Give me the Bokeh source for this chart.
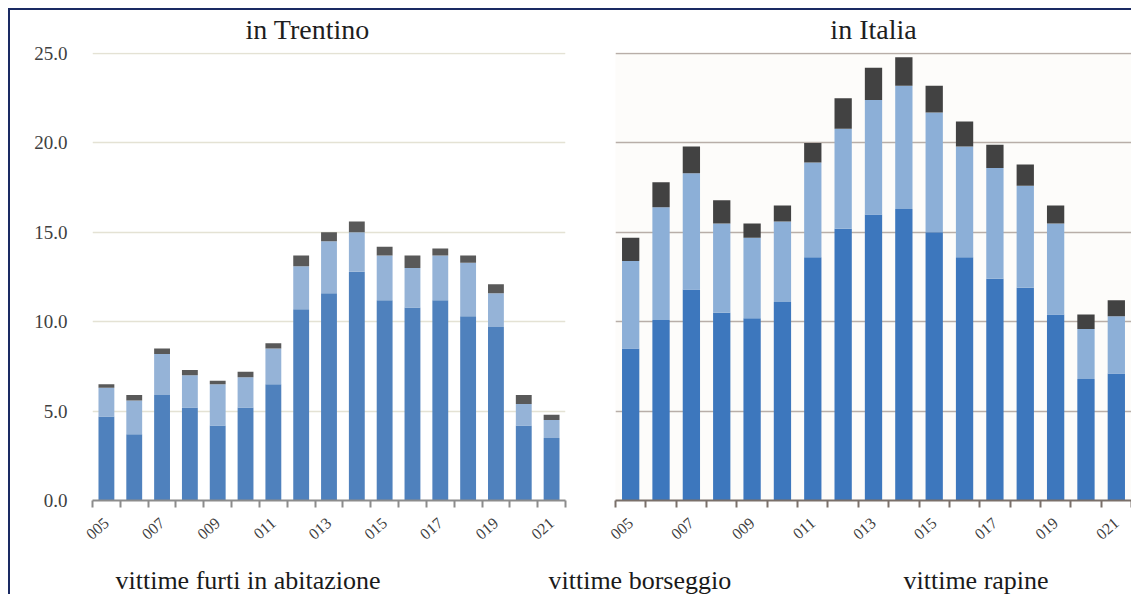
from bokeh.plotting import figure
from bokeh.models import Range1d, FixedTicker, ColumnDataSource
from bokeh.layouts import column, row
from bokeh.embed import file_html
from bokeh.resources import INLINE
from bokeh.core.properties import value

# ---------------- data ----------------
years = [2005, 2006, 2007, 2008, 2009, 2010, 2011, 2012, 2013,
         2014, 2015, 2016, 2017, 2018, 2019, 2020, 2021]
series = ["vittime furti in abitazione", "vittime borseggio", "vittime rapine"]

trentino_furti = [4.7, 3.7, 5.9, 5.2, 4.2, 5.2, 6.5, 10.7, 11.6, 12.8, 11.2, 10.8, 11.2, 10.3, 9.7, 4.2, 3.5]
trentino_borseggio = [1.6, 1.9, 2.3, 1.8, 2.3, 1.7, 2.0, 2.4, 2.9, 2.2, 2.5, 2.2, 2.5, 3.0, 1.9, 1.2, 1.0]
trentino_rapine = [0.2, 0.3, 0.3, 0.3, 0.2, 0.3, 0.3, 0.6, 0.5, 0.6, 0.5, 0.7, 0.4, 0.4, 0.5, 0.5, 0.3]

italia_furti = [8.5, 10.1, 11.8, 10.5, 10.2, 11.1, 13.6, 15.2, 16.0, 16.3, 15.0, 13.6, 12.4, 11.9, 10.4, 6.8, 7.1]
italia_borseggio = [4.9, 6.3, 6.5, 5.0, 4.5, 4.5, 5.3, 5.6, 6.4, 6.9, 6.7, 6.2, 6.2, 5.7, 5.1, 2.8, 3.2]
italia_rapine = [1.3, 1.4, 1.5, 1.3, 0.8, 0.9, 1.1, 1.7, 1.8, 1.6, 1.5, 1.4, 1.3, 1.2, 1.0, 0.8, 0.9]

tick_years = [2005, 2007, 2009, 2011, 2013, 2015, 2017, 2019, 2021]
tick_labels = ["005", "007", "009", "011", "013", "015", "017", "019", "021"]
y_ticks = [0, 5, 10, 15, 20, 25]

titles = ["in Trentino", "in Italia"]

FONT = "Liberation Serif"
KEYS = ["furti", "borseggio", "rapine"]


def make_chart(title, furti, borseggio, rapine, colors, width, min_left, min_right,
               grid_color, axis_color, bg, show_y, title_align, title_offset):
    src = ColumnDataSource(dict(year=years, furti=furti, borseggio=borseggio, rapine=rapine))
    p = figure(width=width, height=544, output_backend="svg", toolbar_location=None,
               x_range=Range1d(years[0] - 0.5, years[-1] + 0.5), y_range=Range1d(0, 25.06),
               min_border_left=min_left, min_border_right=min_right,
               min_border_top=48, min_border_bottom=48,
               background_fill_color=bg, border_fill_color=None, outline_line_color=None)
    p.vbar_stack(KEYS, x="year", width=0.57, source=src, color=colors,
                 line_color=None)

    p.title.text = title
    p.title.text_font = FONT
    p.title.text_font_style = "normal"
    p.title.text_font_size = "28px"
    p.title.text_color = "#1e1e1e"
    p.title.align = title_align
    p.title.offset = title_offset
    p.title.standoff = 11
    p.title.vertical_align = "top"

    # x axis: labels at odd years, ticks at category boundaries
    boundaries = [y - 0.5 for y in years] + [years[-1] + 0.5]
    p.xaxis.ticker = FixedTicker(ticks=tick_years, minor_ticks=boundaries)
    p.xaxis.major_label_overrides = {y: l for y, l in zip(tick_years, tick_labels)}
    p.xaxis.major_tick_out = 0
    p.xaxis.major_tick_in = 0
    p.xaxis.minor_tick_out = 7
    p.xaxis.minor_tick_in = 0
    p.xaxis.minor_tick_line_color = axis_color
    p.xaxis.minor_tick_line_width = 2
    p.xaxis.axis_line_color = axis_color
    p.xaxis.axis_line_width = 2
    p.xaxis.major_label_orientation = 0.72
    p.xaxis.major_label_standoff = 13
    p.xaxis.major_label_text_font = FONT
    p.xaxis.major_label_text_font_size = "16px"
    p.xaxis.major_label_text_color = "#404040"
    p.xgrid.grid_line_color = None

    p.yaxis.ticker = FixedTicker(ticks=y_ticks)
    p.yaxis.major_label_overrides = {t: f"{t:.1f}" for t in y_ticks}
    p.yaxis.axis_line_color = None
    p.yaxis.major_tick_line_color = None
    p.yaxis.minor_tick_line_color = None
    p.yaxis.major_label_standoff = 19
    p.yaxis.major_label_text_font = FONT
    p.yaxis.major_label_text_font_size = "19px"
    p.yaxis.major_label_text_color = "#404040"
    p.yaxis.visible = show_y
    p.ygrid.grid_line_color = grid_color
    p.ygrid.grid_line_width = 1.5
    return p


left = make_chart(titles[0], trentino_furti, trentino_borseggio, trentino_rapine,
                  ["#4f81bd", "#95b3d7", "#595959"], 582, 84, 25,
                  "#e4e2d4", "#8c8c8c", "#ffffff", True, "left", 153)
right = make_chart(titles[1], italia_furti, italia_borseggio, italia_rapine,
                   ["#3d77bd", "#8cafd7", "#424242"], 541, 25, 0,
                   "#b8aea8", "#7a706a", "#fdfcfa", False, "center", 0)

# legend strip (labels only, as in the reference)
leg_w, leg_h = 1123, 46
legend_x = [107, 540, 895]
leg = figure(width=leg_w, height=leg_h, output_backend="svg", toolbar_location=None,
             x_range=Range1d(0, leg_w), y_range=Range1d(0, leg_h),
             min_border=0, outline_line_color=None, border_fill_color=None,
             background_fill_color=None)
leg.axis.visible = False
leg.grid.visible = False
leg.text(x=legend_x, y=[14] * 3, text=series, text_font=value(FONT),
         text_font_size="26px", text_color="#1a1a1a", text_baseline="alphabetic")

NAVY = "#1a2a63"
frame_lines = (f"linear-gradient({NAVY}, {NAVY}) 0px 4px / 100% 2px no-repeat, "
               f"linear-gradient({NAVY}, {NAVY}) 0px 4px / 2px 100% no-repeat")
layout = column(row(left, right), leg,
                styles={"margin-left": "8px", "margin-top": "4px",
                        "background": frame_lines})

open("out.html", "w").write(file_html(layout, INLINE))
